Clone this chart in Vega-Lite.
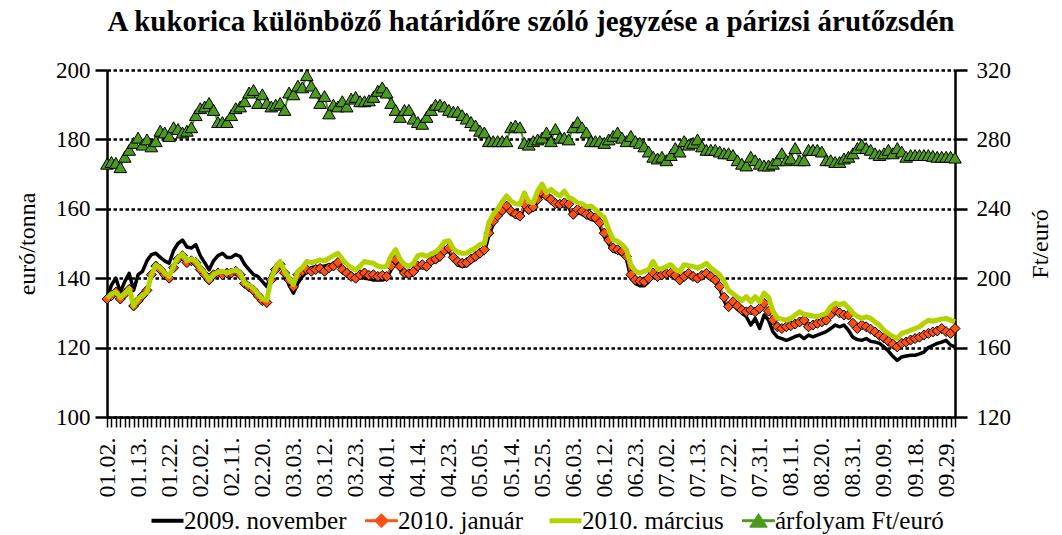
{
"$schema":"https://vega.github.io/schema/vega-lite/v6.json",
"width":848,"height":347,
"autosize":{"type":"none"},
"padding":{"left":107,"top":70,"right":107,"bottom":118},
"background":"white",
"title":{"text":"A kukorica különböző határidőre szóló jegyzése a párizsi árutőzsdén","font":"Liberation Serif","fontSize":29,"fontWeight":"bold","color":"#000","anchor":"middle","offset":22,"frame":"group"},
"config":{"view":{"stroke":null},"font":"Liberation Serif","axis":{"labelFont":"Liberation Serif","titleFont":"Liberation Serif","labelColor":"#000","titleColor":"#000","titleFontWeight":"normal"},"legend":{"labelFont":"Liberation Serif"}},
"data":{"values":[
{"d":"01.02.","nov":134.5,"jan":134.0,"mar":134.2,"fx":266},
{"d":"01.05.","nov":138.0,"jan":135.0,"mar":135.5,"fx":267},
{"d":"01.06.","nov":140.0,"jan":136.0,"mar":136.0,"fx":266.5},
{"d":"01.07.","nov":136.0,"jan":134.0,"mar":134.5,"fx":264},
{"d":"01.08.","nov":139.0,"jan":135.5,"mar":135.5,"fx":270},
{"d":"01.09.","nov":141.4,"jan":136.8,"mar":137.0,"fx":274},
{"d":"01.12.","nov":136.5,"jan":132.0,"mar":132.0,"fx":278},
{"d":"01.13.","nov":141.0,"jan":133.5,"mar":134.0,"fx":281},
{"d":"01.14.","nov":142.0,"jan":135.0,"mar":135.0,"fx":277},
{"d":"01.15.","nov":145.0,"jan":136.5,"mar":136.0,"fx":280},
{"d":"01.16.","nov":146.8,"jan":141.0,"mar":141.0,"fx":276},
{"d":"01.19.","nov":147.2,"jan":143.5,"mar":143.8,"fx":279},
{"d":"01.20.","nov":146.0,"jan":142.5,"mar":143.0,"fx":285},
{"d":"01.21.","nov":145.0,"jan":141.0,"mar":141.5,"fx":284},
{"d":"01.22.","nov":144.3,"jan":140.0,"mar":140.5,"fx":282},
{"d":"01.23.","nov":148.0,"jan":143.0,"mar":143.5,"fx":287},
{"d":"01.26.","nov":150.0,"jan":145.5,"mar":146.0,"fx":286},
{"d":"01.27.","nov":151.0,"jan":146.5,"mar":147.0,"fx":284},
{"d":"01.28.","nov":149.0,"jan":144.5,"mar":145.0,"fx":285},
{"d":"01.29.","nov":148.7,"jan":145.0,"mar":145.5,"fx":287},
{"d":"01.30.","nov":149.7,"jan":144.5,"mar":145.0,"fx":294},
{"d":"02.02.","nov":146.5,"jan":142.5,"mar":143.0,"fx":298},
{"d":"02.03.","nov":144.5,"jan":141.0,"mar":141.5,"fx":299},
{"d":"02.04.","nov":142.4,"jan":139.5,"mar":139.5,"fx":301},
{"d":"02.05.","nov":145.0,"jan":141.0,"mar":141.0,"fx":297},
{"d":"02.06.","nov":146.5,"jan":141.5,"mar":141.8,"fx":290},
{"d":"02.09.","nov":147.2,"jan":141.0,"mar":142.0,"fx":290},
{"d":"02.10.","nov":146.0,"jan":141.5,"mar":141.5,"fx":290},
{"d":"02.11.","nov":146.0,"jan":141.5,"mar":142.0,"fx":294},
{"d":"02.12.","nov":146.8,"jan":142.0,"mar":142.4,"fx":298},
{"d":"02.13.","nov":146.3,"jan":141.0,"mar":141.5,"fx":299},
{"d":"02.16.","nov":144.0,"jan":138.5,"mar":138.6,"fx":302},
{"d":"02.17.","nov":142.5,"jan":137.5,"mar":138.0,"fx":307},
{"d":"02.18.","nov":141.0,"jan":136.5,"mar":137.0,"fx":308.5},
{"d":"02.19.","nov":140.5,"jan":135.0,"mar":135.5,"fx":301},
{"d":"02.20.","nov":139.0,"jan":133.5,"mar":134.0,"fx":306},
{"d":"02.23.","nov":137.6,"jan":133.0,"mar":133.7,"fx":301},
{"d":"02.24.","nov":141.0,"jan":139.5,"mar":140.0,"fx":299},
{"d":"02.25.","nov":143.0,"jan":142.5,"mar":143.0,"fx":300},
{"d":"02.26.","nov":144.3,"jan":144.0,"mar":144.8,"fx":301},
{"d":"02.27.","nov":141.5,"jan":141.5,"mar":142.0,"fx":297},
{"d":"03.02.","nov":138.0,"jan":139.5,"mar":140.0,"fx":307},
{"d":"03.03.","nov":135.7,"jan":137.5,"mar":138.2,"fx":306},
{"d":"03.04.","nov":138.6,"jan":141.0,"mar":142.0,"fx":311},
{"d":"03.05.","nov":140.5,"jan":142.0,"mar":143.0,"fx":310},
{"d":"03.06.","nov":141.9,"jan":142.5,"mar":144.8,"fx":317},
{"d":"03.09.","nov":143.0,"jan":142.0,"mar":144.5,"fx":311},
{"d":"03.10.","nov":143.4,"jan":142.5,"mar":144.8,"fx":307},
{"d":"03.11.","nov":143.4,"jan":142.8,"mar":145.3,"fx":301},
{"d":"03.12.","nov":143.5,"jan":142.0,"mar":145.0,"fx":305},
{"d":"03.13.","nov":143.8,"jan":143.0,"mar":145.8,"fx":295},
{"d":"03.16.","nov":144.0,"jan":143.5,"mar":146.5,"fx":300},
{"d":"03.17.","nov":144.5,"jan":144.5,"mar":147.2,"fx":299},
{"d":"03.18.","nov":143.0,"jan":142.5,"mar":145.5,"fx":302},
{"d":"03.19.","nov":142.0,"jan":141.5,"mar":144.0,"fx":299},
{"d":"03.20.","nov":141.0,"jan":140.5,"mar":143.0,"fx":303.5},
{"d":"03.23.","nov":140.5,"jan":140.0,"mar":142.4,"fx":304.5},
{"d":"03.24.","nov":140.5,"jan":141.0,"mar":143.5,"fx":302},
{"d":"03.25.","nov":140.0,"jan":141.5,"mar":144.8,"fx":302},
{"d":"03.26.","nov":139.8,"jan":140.8,"mar":144.5,"fx":302.5},
{"d":"03.27.","nov":139.5,"jan":141.0,"mar":144.3,"fx":304.5},
{"d":"03.30.","nov":139.5,"jan":140.5,"mar":143.5,"fx":308},
{"d":"03.31.","nov":139.5,"jan":140.8,"mar":143.2,"fx":310},
{"d":"04.01.","nov":139.8,"jan":140.5,"mar":143.4,"fx":307},
{"d":"04.02.","nov":142.5,"jan":143.5,"mar":146.5,"fx":301},
{"d":"04.03.","nov":144.5,"jan":145.3,"mar":148.2,"fx":297},
{"d":"04.06.","nov":142.5,"jan":143.4,"mar":145.5,"fx":293},
{"d":"04.07.","nov":140.8,"jan":141.5,"mar":144.0,"fx":297},
{"d":"04.08.","nov":140.5,"jan":141.3,"mar":143.4,"fx":297},
{"d":"04.09.","nov":141.0,"jan":141.9,"mar":144.3,"fx":292},
{"d":"04.14.","nov":142.8,"jan":143.5,"mar":146.5,"fx":290},
{"d":"04.15.","nov":143.2,"jan":143.9,"mar":146.8,"fx":289},
{"d":"04.16.","nov":142.6,"jan":143.4,"mar":146.3,"fx":293},
{"d":"04.17.","nov":144.3,"jan":145.0,"mar":147.0,"fx":297},
{"d":"04.20.","nov":144.8,"jan":145.5,"mar":147.5,"fx":300},
{"d":"04.21.","nov":145.5,"jan":146.3,"mar":148.7,"fx":300},
{"d":"04.22.","nov":147.2,"jan":148.0,"mar":150.5,"fx":299},
{"d":"04.23.","nov":148.0,"jan":148.7,"mar":150.8,"fx":297},
{"d":"04.24.","nov":145.2,"jan":146.0,"mar":148.5,"fx":296},
{"d":"04.27.","nov":143.8,"jan":144.8,"mar":147.5,"fx":296},
{"d":"04.28.","nov":143.4,"jan":144.3,"mar":147.2,"fx":294},
{"d":"04.29.","nov":143.6,"jan":144.5,"mar":147.2,"fx":292},
{"d":"04.30.","nov":144.7,"jan":145.5,"mar":148.0,"fx":290},
{"d":"05.04.","nov":145.5,"jan":146.3,"mar":148.7,"fx":288},
{"d":"05.05.","nov":146.5,"jan":147.2,"mar":149.7,"fx":285},
{"d":"05.06.","nov":147.5,"jan":148.2,"mar":150.1,"fx":284},
{"d":"05.07.","nov":152.2,"jan":153.0,"mar":156.0,"fx":279},
{"d":"05.08.","nov":155.6,"jan":156.4,"mar":158.4,"fx":279},
{"d":"05.11.","nov":157.3,"jan":158.0,"mar":160.0,"fx":279},
{"d":"05.12.","nov":158.8,"jan":159.5,"mar":162.0,"fx":279},
{"d":"05.13.","nov":160.0,"jan":160.8,"mar":163.7,"fx":279},
{"d":"05.14.","nov":158.5,"jan":159.3,"mar":162.2,"fx":287},
{"d":"05.15.","nov":157.8,"jan":158.5,"mar":161.5,"fx":288},
{"d":"05.18.","nov":157.2,"jan":157.9,"mar":161.3,"fx":287},
{"d":"05.19.","nov":160.5,"jan":161.3,"mar":164.6,"fx":278},
{"d":"05.20.","nov":159.0,"jan":159.8,"mar":162.0,"fx":277},
{"d":"05.21.","nov":159.8,"jan":160.5,"mar":161.7,"fx":279},
{"d":"05.22.","nov":162.0,"jan":162.7,"mar":165.1,"fx":280},
{"d":"05.25.","nov":164.0,"jan":164.6,"mar":167.1,"fx":281},
{"d":"05.26.","nov":163.0,"jan":163.7,"mar":164.6,"fx":284},
{"d":"05.27.","nov":162.0,"jan":162.7,"mar":165.6,"fx":279},
{"d":"05.28.","nov":160.8,"jan":161.5,"mar":164.5,"fx":286},
{"d":"05.29.","nov":160.6,"jan":161.3,"mar":163.7,"fx":281},
{"d":"06.01.","nov":161.0,"jan":161.7,"mar":165.1,"fx":281},
{"d":"06.02.","nov":160.5,"jan":161.3,"mar":163.2,"fx":280},
{"d":"06.03.","nov":157.6,"jan":158.4,"mar":162.7,"fx":287},
{"d":"06.04.","nov":159.0,"jan":159.8,"mar":161.7,"fx":290},
{"d":"06.05.","nov":158.5,"jan":159.3,"mar":161.5,"fx":287},
{"d":"06.08.","nov":157.6,"jan":158.4,"mar":160.5,"fx":284},
{"d":"06.09.","nov":157.0,"jan":157.9,"mar":160.8,"fx":279},
{"d":"06.10.","nov":156.6,"jan":157.4,"mar":159.8,"fx":279},
{"d":"06.11.","nov":155.2,"jan":156.0,"mar":158.5,"fx":279},
{"d":"06.12.","nov":152.0,"jan":153.0,"mar":157.5,"fx":278},
{"d":"06.15.","nov":150.0,"jan":151.0,"mar":154.0,"fx":280},
{"d":"06.16.","nov":147.8,"jan":148.7,"mar":151.1,"fx":282},
{"d":"06.17.","nov":147.4,"jan":148.2,"mar":150.6,"fx":284},
{"d":"06.18.","nov":146.8,"jan":147.7,"mar":149.7,"fx":281},
{"d":"06.19.","nov":145.5,"jan":146.3,"mar":148.2,"fx":279},
{"d":"06.22.","nov":140.0,"jan":141.0,"mar":143.9,"fx":282},
{"d":"06.23.","nov":138.5,"jan":139.5,"mar":142.0,"fx":279},
{"d":"06.24.","nov":137.8,"jan":139.2,"mar":141.5,"fx":278},
{"d":"06.25.","nov":137.8,"jan":139.0,"mar":142.0,"fx":276},
{"d":"06.26.","nov":139.0,"jan":140.0,"mar":142.4,"fx":273},
{"d":"06.29.","nov":140.5,"jan":141.5,"mar":144.8,"fx":270},
{"d":"06.30.","nov":139.9,"jan":140.5,"mar":142.6,"fx":269},
{"d":"07.01.","nov":140.4,"jan":141.0,"mar":142.8,"fx":270},
{"d":"07.02.","nov":140.7,"jan":141.3,"mar":143.4,"fx":268},
{"d":"07.03.","nov":140.9,"jan":141.5,"mar":143.9,"fx":271},
{"d":"07.06.","nov":140.2,"jan":140.8,"mar":142.5,"fx":275},
{"d":"07.07.","nov":138.9,"jan":139.5,"mar":141.9,"fx":273},
{"d":"07.08.","nov":139.9,"jan":140.5,"mar":143.9,"fx":279},
{"d":"07.09.","nov":140.8,"jan":141.4,"mar":143.6,"fx":277},
{"d":"07.10.","nov":139.9,"jan":140.5,"mar":143.4,"fx":278},
{"d":"07.13.","nov":139.4,"jan":140.0,"mar":142.9,"fx":280},
{"d":"07.14.","nov":140.2,"jan":140.8,"mar":143.5,"fx":276},
{"d":"07.15.","nov":140.8,"jan":141.4,"mar":144.3,"fx":274},
{"d":"07.16.","nov":139.9,"jan":140.5,"mar":142.9,"fx":274},
{"d":"07.17.","nov":138.9,"jan":139.5,"mar":142.0,"fx":274},
{"d":"07.20.","nov":137.0,"jan":137.6,"mar":141.0,"fx":273},
{"d":"07.21.","nov":133.5,"jan":134.5,"mar":139.0,"fx":272},
{"d":"07.22.","nov":131.0,"jan":131.8,"mar":136.5,"fx":272},
{"d":"07.23.","nov":132.4,"jan":133.2,"mar":135.5,"fx":271},
{"d":"07.24.","nov":131.0,"jan":132.0,"mar":134.5,"fx":268},
{"d":"07.27.","nov":130.0,"jan":130.8,"mar":133.5,"fx":266},
{"d":"07.28.","nov":128.9,"jan":130.3,"mar":134.7,"fx":265},
{"d":"07.29.","nov":126.5,"jan":130.8,"mar":133.2,"fx":270},
{"d":"07.30.","nov":128.4,"jan":130.3,"mar":134.7,"fx":268},
{"d":"07.31.","nov":125.5,"jan":131.3,"mar":133.2,"fx":266},
{"d":"08.03.","nov":129.4,"jan":132.8,"mar":135.7,"fx":265},
{"d":"08.04.","nov":127.9,"jan":130.5,"mar":134.5,"fx":265},
{"d":"08.05.","nov":124.5,"jan":128.0,"mar":130.5,"fx":266},
{"d":"08.06.","nov":123.0,"jan":126.0,"mar":128.5,"fx":268},
{"d":"08.07.","nov":122.6,"jan":125.5,"mar":128.2,"fx":272},
{"d":"08.10.","nov":122.1,"jan":126.0,"mar":127.9,"fx":268},
{"d":"08.11.","nov":122.6,"jan":126.3,"mar":128.4,"fx":269},
{"d":"08.12.","nov":123.2,"jan":126.8,"mar":129.4,"fx":275},
{"d":"08.13.","nov":123.6,"jan":127.4,"mar":130.3,"fx":268},
{"d":"08.14.","nov":122.6,"jan":127.9,"mar":129.6,"fx":268},
{"d":"08.17.","nov":123.6,"jan":126.0,"mar":129.4,"fx":274},
{"d":"08.18.","nov":123.1,"jan":126.5,"mar":129.1,"fx":274},
{"d":"08.19.","nov":123.6,"jan":127.0,"mar":128.9,"fx":274},
{"d":"08.20.","nov":124.1,"jan":127.4,"mar":129.4,"fx":273},
{"d":"08.21.","nov":124.6,"jan":127.9,"mar":129.9,"fx":268},
{"d":"08.24.","nov":125.5,"jan":129.5,"mar":131.8,"fx":268},
{"d":"08.25.","nov":126.5,"jan":130.8,"mar":132.8,"fx":267},
{"d":"08.26.","nov":126.0,"jan":130.0,"mar":132.3,"fx":267},
{"d":"08.27.","nov":126.5,"jan":129.4,"mar":132.8,"fx":269},
{"d":"08.28.","nov":125.0,"jan":129.4,"mar":131.5,"fx":270},
{"d":"08.31.","nov":123.0,"jan":127.0,"mar":130.0,"fx":272},
{"d":"09.01.","nov":122.3,"jan":125.5,"mar":129.0,"fx":275},
{"d":"09.02.","nov":122.1,"jan":126.5,"mar":128.4,"fx":277},
{"d":"09.03.","nov":122.6,"jan":126.0,"mar":128.9,"fx":275},
{"d":"09.04.","nov":121.8,"jan":125.3,"mar":128.4,"fx":274},
{"d":"09.07.","nov":121.6,"jan":124.5,"mar":127.4,"fx":272},
{"d":"09.08.","nov":121.2,"jan":123.5,"mar":126.5,"fx":271},
{"d":"09.09.","nov":120.2,"jan":122.8,"mar":125.0,"fx":272},
{"d":"09.10.","nov":119.0,"jan":121.8,"mar":124.0,"fx":274},
{"d":"09.11.","nov":117.5,"jan":121.0,"mar":123.2,"fx":272},
{"d":"09.14.","nov":116.3,"jan":120.2,"mar":122.6,"fx":275},
{"d":"09.15.","nov":117.3,"jan":121.2,"mar":124.1,"fx":273},
{"d":"09.16.","nov":117.6,"jan":121.6,"mar":124.5,"fx":270},
{"d":"09.17.","nov":117.8,"jan":122.2,"mar":125.0,"fx":271},
{"d":"09.18.","nov":117.8,"jan":122.6,"mar":125.5,"fx":271},
{"d":"09.21.","nov":118.2,"jan":123.0,"mar":126.0,"fx":271},
{"d":"09.22.","nov":118.7,"jan":123.6,"mar":127.0,"fx":271},
{"d":"09.23.","nov":120.0,"jan":124.1,"mar":127.9,"fx":271},
{"d":"09.24.","nov":120.6,"jan":124.5,"mar":127.6,"fx":270.5},
{"d":"09.25.","nov":121.2,"jan":124.8,"mar":127.9,"fx":270},
{"d":"09.28.","nov":121.6,"jan":125.5,"mar":128.2,"fx":270},
{"d":"09.29.","nov":122.1,"jan":124.6,"mar":128.4,"fx":270},
{"d":"09.30.","nov":120.7,"jan":124.1,"mar":127.9,"fx":270},
{"d":"10.01.","nov":120.2,"jan":125.5,"mar":127.4,"fx":269.5}
]},
"encoding":{"x":{"field":"d","type":"ordinal","sort":null,"scale":{"type":"point","padding":0},
 "axis":{"title":null,"labelAngle":270,"labelFont":"Liberation Serif","labelFontSize":24,"labelPadding":10,"tickSize":10,"tickWidth":1.5,"tickColor":"#000","domainColor":"#000","domainWidth":2.5,"labelOverlap":false,"labelBound":false,"grid":false,
 "labelExpr":"indexof(['01.02.','01.13.','01.22.','02.02.','02.11.','02.20.','03.03.','03.12.','03.23.','04.01.','04.14.','04.23.','05.05.','05.14.','05.25.','06.03.','06.12.','06.23.','07.02.','07.13.','07.22.','07.31.','08.11.','08.20.','08.31.','09.09.','09.18.','09.29.'], datum.value) >= 0 ? datum.value : ''"}}},
"layer":[
 {"transform":[{"fold":["nov","jan","mar"],"as":["k","v"]}],
  "encoding":{"y":{"field":"v","type":"quantitative","scale":{"domain":[100,200],"nice":false,"zero":false},
     "axis":{"title":"euró/tonna","values":[100,120,140,160,180,200],"labelFont":"Liberation Serif","titleFont":"Liberation Serif","labelFontSize":23,"titleFontSize":24,"tickSize":12,"tickWidth":2.5,"tickColor":"#000","domainColor":"#000","domainWidth":2.5,"labelPadding":5,"titlePadding":16,"grid":true,"gridColor":"#000","gridDash":[3.5,2.5],"gridWidth":2.3}}},
  "layer":[
  {"transform":[{"filter":"datum.k == 'nov'"}],
   "mark":{"type":"line","strokeWidth":3.5,"strokeJoin":"round"},
   "encoding":{
    "color":{"datum":"nov","scale":{"domain":["nov","jan","mar","fx"],"range":["#000000","#ff5014","#b4d200","#4c9a1e"]},
     "legend":{"orient":"none","legendX":48,"legendY":438,"direction":"horizontal","title":null,"labelFont":"Liberation Serif","labelFontSize":25,"labelColor":"#000","labelLimit":400,"symbolType":"stroke","symbolSize":1024,"symbolStrokeWidth":4,"labelOffset":4,"columnPadding":16,
      "labelExpr":"datum.value == 'nov' ? '2009. november' : datum.value == 'jan' ? '2010. január' : datum.value == 'mar' ? '2010. március' : 'árfolyam Ft/euró'",
      "encoding":{"symbols":{
        "shape":{"value":{"expr":"datum.value == 'jan' ? 'M-1,-0.06H1V0.06H-1Z M0,-0.44L0.44,0L0,0.44L-0.44,0Z' : datum.value == 'fx' ? 'M-1,-0.06H1V0.06H-1Z M0,-0.45L0.55,0.4L-0.55,0.4Z' : 'M-1,0H1'"}},
        "strokeWidth":{"value":{"expr":"datum.value == 'nov' ? 4 : datum.value == 'mar' ? 5 : 1"}}
      }}}}}},
  {"transform":[{"filter":"datum.k == 'jan'"}],
   "mark":{"type":"line","strokeWidth":2},
   "encoding":{"color":{"datum":"jan"}}},
  {"transform":[{"filter":"datum.k == 'jan'"}],
   "mark":{"type":"point","shape":"diamond","filled":true,"size":100,"stroke":"#000","strokeWidth":1,"opacity":1},
   "encoding":{"color":{"datum":"jan"}}},
  {"transform":[{"filter":"datum.k == 'mar'"}],
   "mark":{"type":"line","strokeWidth":5,"strokeJoin":"round"},
   "encoding":{"color":{"datum":"mar"}}}
 ]},
 {"encoding":{"y":{"field":"fx","type":"quantitative","scale":{"domain":[120,320],"nice":false,"zero":false},
     "axis":{"orient":"right","title":"Ft/euró","values":[120,160,200,240,280,320],"labelFont":"Liberation Serif","titleFont":"Liberation Serif","labelFontSize":23,"titleFontSize":24,"tickSize":12,"tickWidth":2.5,"tickColor":"#000","domainColor":"#000","domainWidth":2.5,"labelPadding":9,"titlePadding":18,"titleAngle":270,"titleBaseline":"top","grid":false}}},
  "layer":[
  {"mark":{"type":"line","strokeWidth":2},
   "encoding":{"color":{"datum":"fx"}}},
  {"mark":{"type":"point","shape":"triangle-up","filled":true,"size":160,"stroke":"#000","strokeWidth":1,"opacity":1},
   "encoding":{"color":{"datum":"fx"}}}
 ]}
],
"resolve":{"scale":{"y":"independent"}}
}
